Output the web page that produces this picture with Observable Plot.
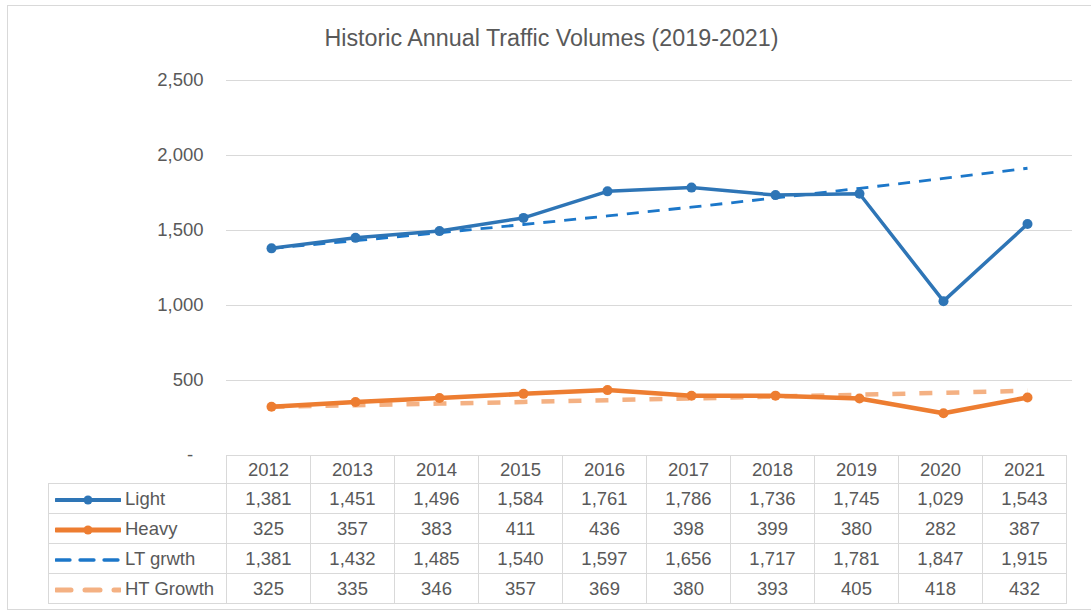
<!DOCTYPE html>
<html>
<head>
<meta charset="utf-8">
<script src="https://cdn.jsdelivr.net/npm/d3@7"></script>
<script src="https://cdn.jsdelivr.net/npm/@observablehq/plot@0.6"></script>
<style>
  body { margin: 0; background: #fff; font-family: "Liberation Sans", Arial, sans-serif; }
  #page { position: relative; width: 1091px; height: 613px; overflow: hidden; }
  #frame { position: absolute; left: 7px; top: 5px; width: 1100px; height: 605px; border: 1px solid #d9d9d9; box-sizing: border-box; }
  #title { position: absolute; left: 0; top: 25px; width: 1103px; text-align: center; font-size: 23.3px; color: #595959; }
  #chart { position: absolute; left: 0; top: 0; }
  table { position: absolute; left: 48px; top: 455px; border-collapse: collapse; table-layout: fixed; font-size: 18.5px; color: #595959; }
  td { border: 1px solid #d9d9d9; padding: 0; text-align: center; white-space: nowrap; }
  td.lab { text-align: left; padding-left: 6px; }
  td.lab svg { vertical-align: middle; margin-right: 4px; }
  td.blank { border: none; }
</style>
</head>
<body>
<div id="page">
  <div id="frame"></div>
  <div id="title">Historic Annual Traffic Volumes (2019-2021)</div>
  <div id="chart"></div>
  <table id="tbl"></table>
</div>
<script>
// ---- data ----
const years = ["2012","2013","2014","2015","2016","2017","2018","2019","2020","2021"];
const light = [1381, 1451, 1496, 1584, 1761, 1786, 1736, 1745, 1029, 1543];
const heavy = [325, 357, 383, 411, 436, 398, 399, 380, 282, 387];
const ltGrowth = [1381, 1432, 1485, 1540, 1597, 1656, 1717, 1781, 1847, 1915];
const htGrowth = [325, 335, 346, 357, 369, 380, 393, 405, 418, 432];
const seriesNames = ["Light", "Heavy", "LT grwth", "HT Growth"];
const yTicks = [0, 500, 1000, 1500, 2000, 2500];

// ---- styles ----
const styles = {
  "Light":     {stroke: "#2E75B6", width: 3.5, dash: null,   dot: 5},
  "Heavy":     {stroke: "#ED7D31", width: 4.5, dash: null,   dot: 5},
  "LT grwth":  {stroke: "#1C77C9", width: 2.8, dash: "12,9", dot: 0},
  "HT Growth": {stroke: "#F4B183", width: 4.5, dash: "13,14", dot: 0}
};
const seriesValues = [light, heavy, ltGrowth, htGrowth];
const rows = seriesNames.map((name, i) => years.map((y, j) => ({series: name, year: y, value: seriesValues[i][j]})));

const fmt = d3.format(",");

const marks = [
  Plot.ruleY(yTicks.filter(d => d > 0), {stroke: "#d9d9d9", strokeWidth: 1}),
  Plot.axisY({ticks: yTicks, tickSize: 0, tickPadding: 23, fontSize: 18.5, label: null,
              tickFormat: d => d === 0 ? "-\u00a0\u00a0" : fmt(d)})
];
// draw dashed first (underneath), then solid series
[3, 2, 1, 0].forEach(i => {
  const s = styles[seriesNames[i]];
  marks.push(Plot.line(rows[i], {x: "year", y: "value", stroke: s.stroke, strokeWidth: s.width,
    strokeDasharray: s.dash, strokeLinejoin: "round", strokeLinecap: "butt"}));
  if (s.dot) marks.push(Plot.dot(rows[i], {x: "year", y: "value", r: s.dot, fill: s.stroke, stroke: "none"}));
});

const chart = Plot.plot({
  width: 1091,
  height: 475,
  marginTop: 80,
  marginBottom: 20,
  marginLeft: 226,
  marginRight: 19,
  style: {color: "#595959", fontFamily: "'Liberation Sans', Arial, sans-serif", fontSize: "18.5px", background: "transparent"},
  x: {type: "point", domain: years, padding: 0.5, axis: null},
  y: {domain: [0, 2500], axis: null, label: null},
  marks
});
document.getElementById("chart").appendChild(chart);

// ---- data table aligned to the plot's x scale ----
const xs = chart.scale("x");
const step = xs.apply(years[1]) - xs.apply(years[0]);
const tbl = document.getElementById("tbl");
const colgroup = document.createElement("colgroup");
const c0 = document.createElement("col"); c0.style.width = "178px"; colgroup.appendChild(c0);
years.forEach(() => { const c = document.createElement("col"); c.style.width = step + "px"; colgroup.appendChild(c); });
tbl.appendChild(colgroup);

const hr = document.createElement("tr"); hr.style.height = "28px";
const blank = document.createElement("td"); blank.className = "blank"; hr.appendChild(blank);
years.forEach(y => { const td = document.createElement("td"); td.textContent = y; hr.appendChild(td); });
tbl.appendChild(hr);

function swatch(name) {
  const s = styles[name];
  const ns = "http://www.w3.org/2000/svg";
  const svg = document.createElementNS(ns, "svg");
  svg.setAttribute("width", 66); svg.setAttribute("height", 14);
  const ln = document.createElementNS(ns, "line");
  ln.setAttribute("x1", 1); ln.setAttribute("x2", 65); ln.setAttribute("y1", 7); ln.setAttribute("y2", 7);
  ln.setAttribute("stroke", s.stroke); ln.setAttribute("stroke-width", s.width + 0.5);
  ln.setAttribute("stroke-linecap", "round");
  if (s.dash) ln.setAttribute("stroke-dasharray", name === "LT grwth" ? "14,10" : "15,14");
  svg.appendChild(ln);
  if (s.dot) {
    const c = document.createElementNS(ns, "circle");
    c.setAttribute("cx", 33); c.setAttribute("cy", 7); c.setAttribute("r", 4.5); c.setAttribute("fill", s.stroke);
    svg.appendChild(c);
  }
  return svg;
}

seriesNames.forEach((name, i) => {
  const tr = document.createElement("tr"); tr.style.height = "30px";
  const lab = document.createElement("td"); lab.className = "lab";
  lab.appendChild(swatch(name));
  lab.appendChild(document.createTextNode(name));
  tr.appendChild(lab);
  seriesValues[i].forEach(v => { const td = document.createElement("td"); td.textContent = fmt(v); tr.appendChild(td); });
  tbl.appendChild(tr);
});
</script>
</body>
</html>
